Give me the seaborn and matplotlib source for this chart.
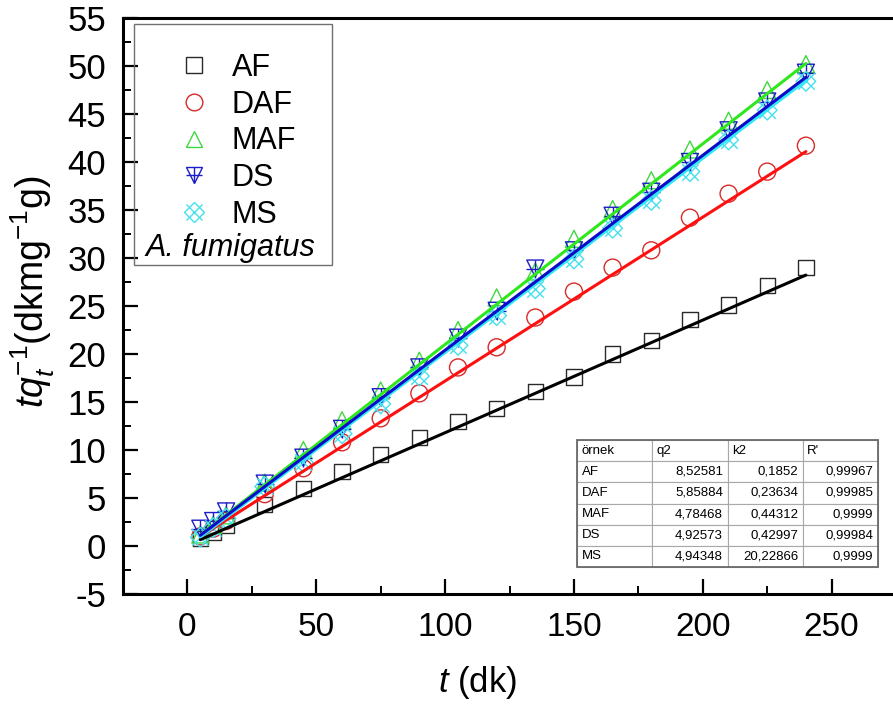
import matplotlib
matplotlib.use("Agg")
import matplotlib.pyplot as plt
import numpy as np
import pandas as pd
import seaborn as sns
from matplotlib.lines import Line2D
from matplotlib.patches import Rectangle
from matplotlib.table import Table
from matplotlib.ticker import MultipleLocator

# Contact time (min) and t/q_t values for each sorbent
t_min = [5, 10, 15, 30, 45, 60, 75, 90, 105, 120, 135, 150, 165, 180, 195, 210, 225, 240]
af = [0.8, 1.4, 2.1, 4.3, 6.0, 7.8, 9.5, 11.3, 13.0, 14.3, 16.1, 17.6, 20.0, 21.4, 23.6, 25.1, 27.1, 29.0]
daf = [1.0, 1.8, 2.6, 5.4, 8.1, 10.8, 13.3, 15.9, 18.6, 20.7, 23.8, 26.5, 29.0, 30.8, 34.2, 36.7, 39.0, 41.7]
maf = [1.2, 2.2, 3.2, 6.6, 10.0, 13.1, 16.2, 19.3, 22.5, 25.9, 28.6, 32.0, 35.1, 38.1, 41.3, 44.3, 47.5, 50.2]
ds = [1.8, 2.6, 3.6, 6.5, 9.2, 12.2, 15.5, 18.6, 21.7, 24.5, 28.9, 30.8, 34.4, 36.9, 40.0, 43.3, 46.3, 49.3]
ms = [0.9, 1.9, 2.9, 6.2, 8.7, 11.7, 14.8, 17.7, 20.9, 24.0, 26.8, 29.9, 33.1, 36.0, 39.0, 42.3, 45.4, 48.4]

# Pseudo-second-order fit parameters
series = ["AF", "DAF", "MAF", "DS", "MS"]
q2 = [8.52581, 5.85884, 4.78468, 4.92573, 4.94348]
k2 = [0.1852, 0.23634, 0.44312, 0.42997, 20.22866]
r_fit = [0.99967, 0.99985, 0.9999, 0.99984, 0.9999]

x_ticks = [0, 50, 100, 150, 200, 250]
y_ticks = [-5, 0, 5, 10, 15, 20, 25, 30, 35, 40, 45, 50, 55]

values = [af, daf, maf, ds, ms]
marker_colors = ["#2a2a2a", "#d82a2a", "#3fd83f", "#1c1cc8", "#45e0ee"]
line_colors = ["#000000", "#ff1010", "#2ee81c", "#0c0cc8", "#30e8f8"]
line_widths = [2.2, 2.2, 2.2, 2.2, 3.0]

sns.set_theme(style="white")
plt.rcParams.update({
    "font.family": ["Liberation Sans", "DejaVu Sans"],
    "mathtext.fontset": "custom",
    "mathtext.rm": "Liberation Sans",
    "mathtext.it": "Liberation Sans:italic",
    "mathtext.bf": "Liberation Sans:bold",
    "text.color": "black",
    "axes.labelcolor": "black",
    "xtick.color": "black",
    "ytick.color": "black",
})

W, H = 893, 709
fig = plt.figure(figsize=(W / 100, H / 100), dpi=100)


def fx(px):
    return px / W


def fy(py):
    return 1 - py / H


ax = fig.add_axes([fx(123), fy(594), fx(893) - fx(123), fy(18) - fy(594)])

df = pd.DataFrame({"t": t_min})
for name, v in zip(series, values):
    df[name] = v

ms_size = 120
# data points
sns.scatterplot(data=df, x="t", y="AF", ax=ax, marker="s", s=ms_size,
                facecolor="none", edgecolor=marker_colors[0], linewidth=1.0, zorder=3)
sns.scatterplot(data=df, x="t", y="DAF", ax=ax, marker="o", s=ms_size + 30,
                facecolor="none", edgecolor=marker_colors[1], linewidth=1.0, zorder=3)
sns.scatterplot(data=df, x="t", y="MAF", ax=ax, marker="^", s=ms_size + 30,
                facecolor="none", edgecolor=marker_colors[2], linewidth=1.0, zorder=3)
sns.scatterplot(data=df, x="t", y="DS", ax=ax, marker="v", s=ms_size + 30,
                facecolor="none", edgecolor=marker_colors[3], linewidth=1.0, zorder=3)
sns.scatterplot(data=df, x="t", y="DS", ax=ax, marker="+", s=ms_size + 30,
                color=marker_colors[3], linewidth=1.0, zorder=3)
sns.scatterplot(data=df, x="t", y="MS", ax=ax, marker="D", s=ms_size - 20,
                facecolor="none", edgecolor=marker_colors[4], linewidth=1.0, zorder=3)
sns.scatterplot(data=df, x="t", y="MS", ax=ax, marker="x", s=ms_size + 20,
                color=marker_colors[4], linewidth=1.0, zorder=3)

# fitted lines t/q = 1/(k2 q2^2) + t/q2
t_fit = np.array([t_min[0], t_min[-1]], dtype=float)
draw_order = [0, 1, 2, 4, 3]
for i in draw_order:
    y_fit = 1.0 / (k2[i] * q2[i] ** 2) + t_fit / q2[i]
    sns.lineplot(x=t_fit, y=y_fit, ax=ax, color=line_colors[i],
                 linewidth=line_widths[i], zorder=4)

ax.set_xlim(-25, 273.8)
ax.set_ylim(-5, 55)
ax.set_xticks(x_ticks)
ax.set_yticks(y_ticks)
ax.set_xticklabels([str(v) for v in x_ticks])
ax.set_yticklabels([str(v) for v in y_ticks])
ax.xaxis.set_minor_locator(MultipleLocator(25))
ax.yaxis.set_minor_locator(MultipleLocator(2.5))
ax.tick_params(axis="both", which="major", direction="in", length=11, width=1.6,
               color="black", bottom=True, left=True, top=False, right=False)
ax.tick_params(axis="both", which="minor", direction="in", length=6, width=1.4,
               color="black", bottom=True, left=True, top=False, right=False)
ax.tick_params(axis="x", which="major", labelsize=24, pad=13)
ax.tick_params(axis="y", which="major", labelsize=25, pad=12)

for side in ["left", "bottom", "top"]:
    ax.spines[side].set_linewidth(2.2)
    ax.spines[side].set_color("black")
ax.spines["right"].set_visible(False)

ax.set_xlabel(r"$t$ (dk)", fontsize=25)
ax.xaxis.set_label_coords((478 - 123) / 770, -(664 - 594) / 576)
ax.set_ylabel(r"$tq_t^{-1}$(dkmg$^{-1}$g)", fontsize=27)
ax.yaxis.set_label_coords(-(123 - 57) / 770, (594 - 292) / 576)

# legend
handles = [
    Line2D([], [], ls="", marker="s", ms=11, mfc="none", mec=marker_colors[0], mew=1.0),
    Line2D([], [], ls="", marker="o", ms=12, mfc="none", mec=marker_colors[1], mew=1.0),
    Line2D([], [], ls="", marker="^", ms=12, mfc="none", mec=marker_colors[2], mew=1.0),
    (Line2D([], [], ls="", marker="v", ms=12, mfc="none", mec=marker_colors[3], mew=1.0),
     Line2D([], [], ls="", marker="+", ms=12, mec=marker_colors[3], mew=1.0)),
    (Line2D([], [], ls="", marker="D", ms=10, mfc="none", mec=marker_colors[4], mew=1.0),
     Line2D([], [], ls="", marker="x", ms=11, mec=marker_colors[4], mew=1.0)),
]
ax.legend(handles, series, loc="upper left", bbox_to_anchor=(fx(180), fy(53)),
          bbox_transform=fig.transFigure, frameon=False, borderpad=0, borderaxespad=0,
          handlelength=0.9, handletextpad=0.8, labelspacing=0.22, fontsize=22)
fig.text(fx(145), fy(248), "A. fumigatus", fontsize=22, style="italic",
         ha="left", va="center")
fig.patches.append(Rectangle((fx(134), fy(265)), fx(332) - fx(134), fy(24) - fy(265),
                             transform=fig.transFigure, fill=False,
                             edgecolor="#707070", linewidth=1.0))

# parameter table
def fmt(v):
    return str(v).replace(".", ",")


rows = [["örnek", "q2", "k2", "R'"]]
for name, a, b, c in zip(series, q2, k2, r_fit):
    rows.append([name, fmt(a), fmt(b), fmt(c)])

tx0, tx1 = (577 - 123) / 770, (878 - 123) / 770
ty0, ty1 = (594 - 567) / 576, (594 - 440) / 576
table = Table(ax, bbox=[tx0, ty0, tx1 - tx0, ty1 - ty0])
n_rows, n_cols = len(rows), len(rows[0])
for r, row in enumerate(rows):
    for c, txt in enumerate(row):
        loc = "left" if (r == 0 or c == 0) else "right"
        cell = table.add_cell(r, c, 1.0 / n_cols, 1.0 / n_rows, text=txt, loc=loc,
                              edgecolor="#a8a8a8", facecolor="white")
        cell.PAD = 0.06
        cell.set_linewidth(0.8)
table.auto_set_font_size(False)
table.set_fontsize(9.5)
ax.add_table(table)
ax.add_patch(Rectangle((tx0, ty0), tx1 - tx0, ty1 - ty0, transform=ax.transAxes,
                       fill=False, edgecolor="#6a6a6a", linewidth=1.3, zorder=6))

fig.savefig("out.png", dpi=100)
